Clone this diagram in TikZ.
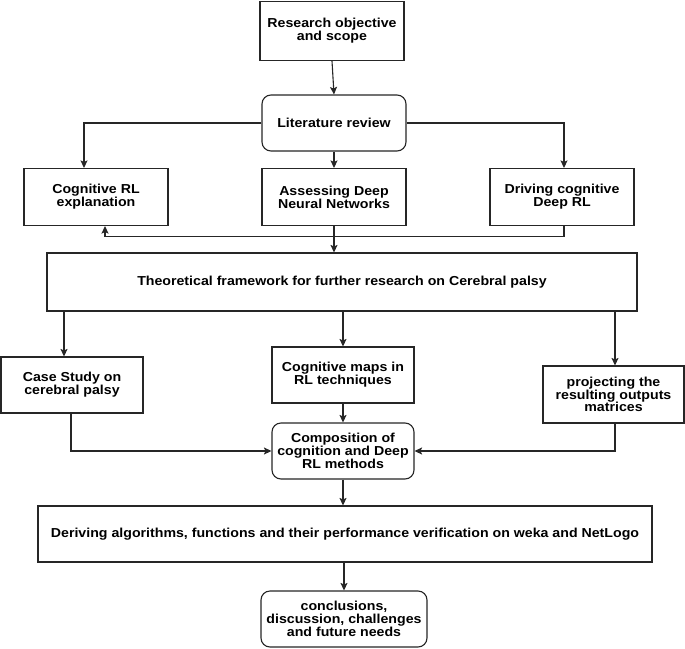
\documentclass[tikz,border=0pt]{standalone}
\usepackage{fontspec}
\setmainfont[FakeStretch=1.09]{Liberation Sans}
\usetikzlibrary{arrows.meta}
\tikzset{
  box/.style={draw=black!85, line width=1.1pt, fill=white, align=center, inner sep=2pt,
    font=\fontsize{13}{12.8}\selectfont\bfseries},
  rbox/.style={box, rounded corners=9pt},
  arr/.style={draw=black!85, line width=1.1pt, -{Stealth[length=7.5pt,width=7pt,inset=1.5pt]}},
  ln/.style={draw=black!85, line width=1.1pt}
}
\begin{document}
\begin{tikzpicture}[x=1pt,y=-1pt]
\useasboundingbox (0,0) rectangle (685,648);
\node[box, minimum width=144pt, minimum height=59pt] (obj) at (332,31) {Research objective\\and scope};
\node[rbox, minimum width=144pt, minimum height=56pt] (lit) at (334,123) {Literature review};
\node[box, minimum width=144pt, minimum height=57pt] (cog) at (96,197) {Cognitive RL\\explanation};
\node[box, minimum width=144pt, minimum height=57pt] (ass) at (334,197) {Assessing Deep\\Neural Networks};
\node[box, minimum width=144pt, minimum height=57pt] (drv) at (562,197) {Driving cognitive\\Deep RL};
\node[box, minimum width=590pt, minimum height=58pt] (theo) at (342,282) {Theoretical framework for further research on Cerebral palsy};
\node[box, minimum width=142pt, minimum height=56pt] (case) at (72,385) {Case Study on\\cerebral palsy};
\node[box, minimum width=142pt, minimum height=56pt] (maps) at (343,375) {Cognitive maps in\\RL techniques};
\node[box, minimum width=141pt, minimum height=57pt] (proj) at (613.5,394.5) {projecting the\\resulting outputs\\matrices};
\node[rbox, minimum width=142pt, minimum height=56pt] (comp) at (343,451) {Composition of\\cognition and Deep\\RL methods};
\node[box, minimum width=614pt, minimum height=56pt] (deriv) at (345,534) {Deriving algorithms, functions and their performance verification on weka and NetLogo};
\node[rbox, minimum width=166pt, minimum height=56pt] (conc) at (344,619) {conclusions,\\discussion, challenges\\and future needs};

\draw[arr] (obj.south) -- (lit.north);
\draw[arr] (lit.west) -| ([xshift=-12pt]cog.north);
\draw[arr] (lit.east) -| ([xshift=2pt]drv.north);
\draw[arr] (lit.south) -- (ass.north);
\draw[arr] ([xshift=2pt]drv.south) -- ++(0,10) -| ([xshift=9pt]cog.south);
\draw[arr] (ass.south) -- (ass.south |- theo.north);
\draw[arr] ([xshift=-8pt]case.north |- theo.south) -- ([xshift=-8pt]case.north);
\draw[arr] (maps.north |- theo.south) -- (maps.north);
\draw[arr] ([xshift=1.5pt]proj.north |- theo.south) -- ([xshift=1.5pt]proj.north);
\draw[arr] (maps.south) -- (comp.north);
\draw[arr] ([xshift=-1pt]case.south) |- (comp.west);
\draw[arr] ([xshift=1.5pt]proj.south) |- (comp.east);
\draw[arr] (comp.south) -- (comp.south |- deriv.north);
\draw[arr] (conc.north |- deriv.south) -- (conc.north);
\end{tikzpicture}
\end{document}
